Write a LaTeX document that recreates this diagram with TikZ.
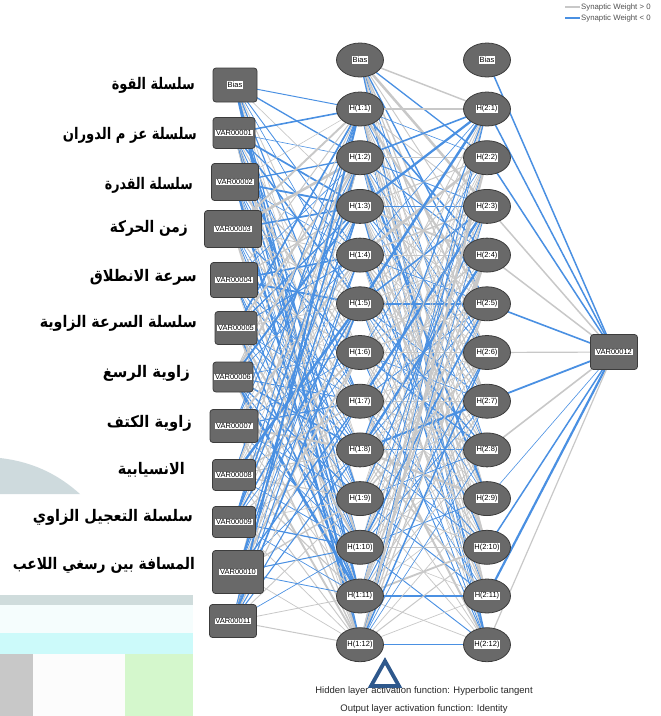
\documentclass[tikz,border=0pt]{standalone}
\usepackage{fontspec}
\setmainfont{Liberation Sans}
\newfontfamily\arabicfont[Script=Arabic]{DejaVu Sans}
\TeXXeTstate=1
\usetikzlibrary{shapes.geometric}
\pgfdeclarelayer{bg}
\pgfsetlayers{bg,main}
\definecolor{wpos}{RGB}{200,200,200}
\definecolor{wneg}{RGB}{74,144,226}
\definecolor{nodefill}{RGB}{105,105,105}
\definecolor{nodeedge}{RGB}{60,60,60}
\definecolor{tri}{RGB}{46,88,140}
\definecolor{notetxt}{RGB}{40,40,40}
\definecolor{legtxt}{RGB}{80,80,80}
\definecolor{bgswoosh}{RGB}{206,218,221}
\definecolor{bgband}{RGB}{207,220,220}
\definecolor{bgwhite}{RGB}{245,253,253}
\definecolor{bgcyan}{RGB}{204,250,250}
\definecolor{bggray}{RGB}{200,200,200}
\definecolor{bgwhite2}{RGB}{252,252,252}
\definecolor{bggreen}{RGB}{212,247,204}
\newcommand\nntag[1]{{\setlength{\fboxsep}{0.8pt}\colorbox{white}{\fontsize{7.5}{8}\selectfont #1}}}
\newlength\arwd
\newcommand\arlab[2]{%
  \settowidth\arwd{\arabicfont\bfseries\fontsize{16}{20}\selectfont #2}%
  \pgfmathsetmacro\arsc{#1/\arwd}%
  \scalebox{\arsc}[1]{\arabicfont\bfseries\fontsize{16}{20}\selectfont #2}}
\begin{document}
\begin{tikzpicture}[x=1pt,y=-1pt,
  inbox/.style={draw=nodeedge, fill=nodefill, rounded corners=3pt, line width=0.8pt, inner sep=0pt},
  hid/.style={ellipse, draw=nodeedge, fill=nodefill, line width=0.8pt, minimum width=47pt, minimum height=34pt, inner sep=0pt},
  arlabel/.style={anchor=east, inner sep=0pt},
  note/.style={font=\fontsize{9.5}{10}\selectfont, text=notetxt, inner sep=0pt},
  leg/.style={anchor=west, font=\fontsize{7.8}{8}\selectfont, text=legtxt, inner sep=0pt}]
\useasboundingbox (0,0) rectangle (661,716);
% input layer
\foreach \n/\x/\y/\w/\h/\t in {
  0/235/85/44/34/Bias,
  1/234/133/42/31/VAR00001,
  2/235/182/47/37/VAR00002,
  3/233/229/57/37/VAR00003,
  4/234/280/47/35/VAR00004,
  5/236/328/42/33/VAR00005,
  6/233/377/40/30/VAR00006,
  7/234/426/48/33/VAR00007,
  8/234/475/43/31/VAR00008,
  9/234/522/43/31/VAR00009,
  10/238/572/51/43/VAR00010,
  11/233/621/47/33/VAR00011}{
  \node[inbox, minimum width=\w pt, minimum height=\h pt] (i\n) at (\x,\y) {\nntag{\t}};
}
% hidden layers
\node[hid] (b1) at (360,60) {\nntag{Bias}};
\node[hid] (b2) at (487,60) {\nntag{Bias}};
\foreach \k in {1,...,12}{
  \pgfmathsetmacro\yy{109+48.7*(\k-1)}
  \node[hid] (a\k) at (360,\yy) {\nntag{H(1:\k)}};
  \node[hid] (c\k) at (487,\yy) {\nntag{H(2:\k)}};
}
% output
\node[inbox, minimum width=47pt, minimum height=35pt] (o) at (614,352) {\nntag{VAR00012}};
% Arabic labels
\node[arlabel] (l1) at (195,85) {\arlab{83}{\beginR سلسلة القوة\endR}};
\node[arlabel] (l2) at (197,135) {\arlab{134}{\beginR سلسلة عز م الدوران\endR}};
\node[arlabel] (l3) at (193,185) {\arlab{88}{\beginR سلسلة القدرة\endR}};
\node[arlabel] (l4) at (188,228) {\arlab{78}{\beginR زمن الحركة\endR}};
\node[arlabel] (l5) at (197,277) {\arlab{107}{\beginR سرعة الانطلاق\endR}};
\node[arlabel] (l6) at (197,323) {\arlab{157}{\beginR سلسلة السرعة الزاوية\endR}};
\node[arlabel] (l7) at (190,373) {\arlab{87}{\beginR زاوية الرسغ\endR}};
\node[arlabel] (l8) at (192,423) {\arlab{85}{\beginR زاوية الكتف\endR}};
\node[arlabel] (l9) at (185,470) {\arlab{67}{\beginR الانسيابية\endR}};
\node[arlabel] (l10) at (193,517) {\arlab{160}{\beginR سلسلة التعجيل الزاوي\endR}};
\node[arlabel] (l11) at (195,565) {\arlab{182}{\beginR المسافة بين رسغي اللاعب\endR}};
% notes
\node[note] (n1) at (424,691) {Hidden layer activation function: Hyperbolic tangent};
\node[note] (n2) at (424,709) {Output layer activation function: Identity};
\draw[tri, line width=3.8pt, line join=miter] (385,661) -- (399,686) -- (371,686) -- cycle;
% legend
\coordinate (g1a) at (565,7); \coordinate (g1b) at (580,7);
\coordinate (g2a) at (565,18); \coordinate (g2b) at (580,18);
\draw[wpos, line width=2pt] (g1a) -- (g1b);
\draw[wneg, line width=2pt] (g2a) -- (g2b);
\node[leg] (t1) at (581,7) {Synaptic Weight > 0};
\node[leg] (t2) at (581,18) {Synaptic Weight < 0};
\begin{pgfonlayer}{bg}
  % faint background image remnants
  \fill[bgswoosh] (0,458) .. controls (35,462) and (60,476) .. (80,494) -- (0,494) -- cycle;
  \fill[bgband] (0,595) rectangle (193,605);
  \fill[bgwhite] (0,605) rectangle (193,633);
  \fill[bgcyan] (0,633) rectangle (193,654);
  \fill[bggray] (0,654) rectangle (33,716);
  \fill[bgwhite2] (33,654) rectangle (125,716);
  \fill[bggreen] (125,654) rectangle (193,716);
  \pgfmathsetseed{4242}
  \foreach \i in {0,...,11}{\foreach \j in {1,...,12}{
    \pgfmathsetmacro\r{rnd}
    \pgfmathsetmacro\w{0.6+2.2*rnd*rnd}
    \ifdim\r pt<0.55pt\def\cc{wneg}\else\def\cc{wpos}\fi
    \draw[draw=\cc, line width=\w pt] (i\i.center) -- (a\j.center);
  }}
  \foreach \s in {b1,a1,a2,a3,a4,a5,a6,a7,a8,a9,a10,a11,a12}{\foreach \j in {1,...,12}{
    \pgfmathsetmacro\r{rnd}
    \pgfmathsetmacro\w{0.6+2.2*rnd*rnd}
    \ifdim\r pt<0.45pt\def\cc{wneg}\else\def\cc{wpos}\fi
    \draw[draw=\cc, line width=\w pt] (\s.center) -- (c\j.center);
  }}
  \foreach \s/\cc/\w in {b2/wneg/1.5, c1/wneg/1.5, c2/wneg/1.5, c3/wpos/1.5, c4/wpos/1.5, c5/wneg/1.6, c6/wpos/1.2, c7/wneg/1.8, c8/wpos/1.6, c9/wneg/0.6, c10/wneg/1.5, c11/wneg/2.2, c12/wpos/1.2}{
    \draw[draw=\cc, line width=\w pt] (\s.center) -- (o.center);
  }
\end{pgfonlayer}
\end{tikzpicture}
\end{document}
